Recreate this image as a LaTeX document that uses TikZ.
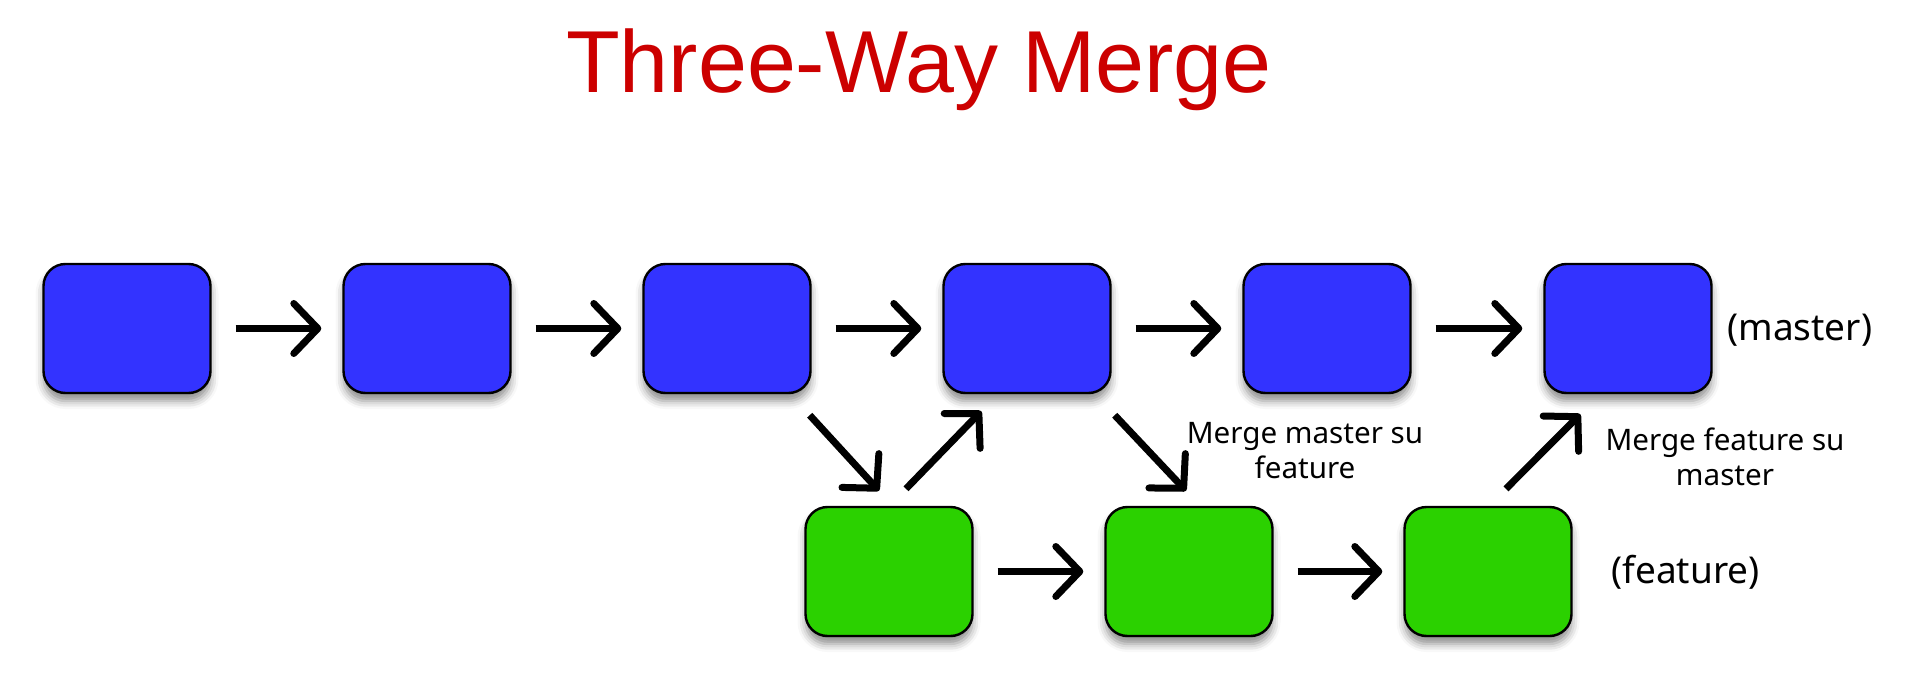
\documentclass[tikz,border=0pt]{standalone}
\usepackage{fontspec}
\setmainfont{Noto Sans}
\newfontfamily\titlefont{Liberation Sans}
\usetikzlibrary{arrows.meta,calc,shadows.blur}
\definecolor{mblue}{RGB}{51,51,255}
\definecolor{fgreen}{RGB}{43,209,0}
\definecolor{tred}{RGB}{204,0,0}
\begin{document}
\begin{tikzpicture}[x=0.5pt,y=-0.5pt,
  commit/.style={draw=black, line width=1.2pt, rounded corners=11pt,
    minimum width=83.5pt, minimum height=64.5pt, inner sep=0pt,
    blur shadow={shadow xshift=0pt, shadow yshift=-4pt, shadow blur radius=4pt, shadow opacity=45}},
  mcommit/.style={commit, fill=mblue},
  fcommit/.style={commit, fill=fgreen},
  arr/.style={line width=3.5pt, -{Straight Barb[length=12pt,width=25pt,round]}},
  harr/.style={arr, shorten <=12pt, shorten >=10.5pt},
  lbl/.style={font=\fontsize{14.8}{17.5}\selectfont, align=center, inner sep=0pt},
  blbl/.style={font=\fontsize{18.5}{22}\selectfont, inner sep=0pt, anchor=west}]
\useasboundingbox (0,0) rectangle (1920,673);

\node[font=\titlefont\fontsize{44}{50}\selectfont, text=tred, anchor=base, inner sep=0pt] (title) at (919,93) {Three-Way Merge};

\node[mcommit] (b1) at (127,328.5) {};
\node[mcommit] (b2) at (427,328.5) {};
\node[mcommit] (b3) at (727,328.5) {};
\node[mcommit] (b4) at (1027,328.5) {};
\node[mcommit] (b5) at (1327,328.5) {};
\node[mcommit] (b6) at (1628,328.5) {};

\node[fcommit] (g1) at (889,571.5) {};
\node[fcommit] (g2) at (1189,571.5) {};
\node[fcommit] (g3) at (1488,571.5) {};

\draw[harr] (b1) -- (b2);
\draw[harr] (b2) -- (b3);
\draw[harr] (b3) -- (b4);
\draw[harr] (b4) -- (b5);
\draw[harr] (b5) -- (b6);
\draw[harr] (g1) -- (g2);
\draw[harr] (g2) -- (g3);

\draw[arr] ($(b3.south east)+(-2,21)$) -- ($(g1.north)+(-10,-15)$);
\draw[arr] ($(g1.north)+(17,-17)$) -- ($(b4.south west)+(39,17)$);
\draw[arr] ($(b4.south east)+(3,21)$) -- ($(g2.north)+(-3,-15)$);
\draw[arr] ($(g3.north)+(18,-17)$) -- ($(b6.south west)+(37,20)$);

\node[lbl, anchor=base] (l1) at (1305,478) {Merge master su\\feature};
\node[lbl, anchor=base] (l2) at (1725,485) {Merge feature su\\master};
\node[blbl] (lm) at (1727,330) {(master)};
\node[blbl] (lf) at (1611,572) {(feature)};
\end{tikzpicture}
\end{document}
